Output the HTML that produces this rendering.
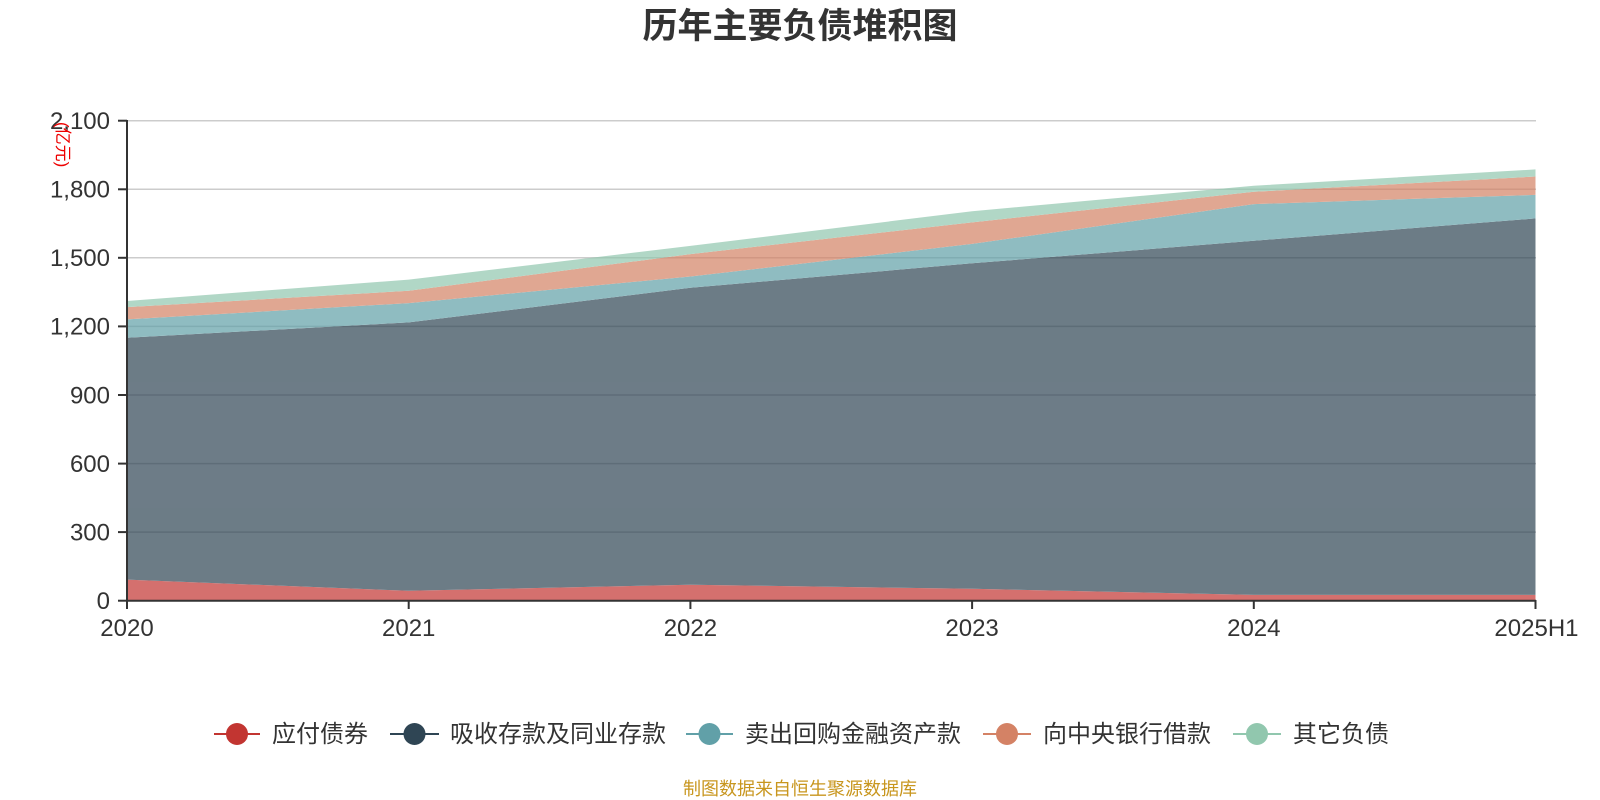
<!DOCTYPE html>
<html><head><meta charset="utf-8"><style>
body{margin:0;background:#fff;}
svg{display:block;font-family:"Liberation Sans","Noto Sans CJK SC",sans-serif;}
</style></head><body>
<svg width="1600" height="800" viewBox="0 0 1600 800">
<text x="800" y="38" text-anchor="middle" font-size="35" font-weight="bold" fill="#333">历年主要负债堆积图</text>
<g stroke="#ccc" stroke-width="1.5">
<line x1="127" x2="1536" y1="120.7" y2="120.7"/>
<line x1="127" x2="1536" y1="189.3" y2="189.3"/>
<line x1="127" x2="1536" y1="257.8" y2="257.8"/>
<line x1="127" x2="1536" y1="326.4" y2="326.4"/>
<line x1="127" x2="1536" y1="395" y2="395"/>
<line x1="127" x2="1536" y1="463.6" y2="463.6"/>
<line x1="127" x2="1536" y1="532.1" y2="532.1"/>
</g>
<g opacity="0.7">
<polygon fill="#c23531" points="127,579.6 408.7,590.8 690.4,584.7 972.1,588.8 1253.8,594.9 1535.5,594.9 1535.5,600.7 127,600.7"/>
<polygon fill="#2f4554" points="127,337.8 408.7,322.4 690.4,287.8 972.1,263.3 1253.8,240.8 1535.5,218.4 1535.5,594.9 1253.8,594.9 972.1,588.8 690.4,584.7 408.7,590.8 127,579.6"/>
<polygon fill="#61a0a8" points="127,319.4 408.7,303.1 690.4,276.5 972.1,243.9 1253.8,204.1 1535.5,194.9 1535.5,218.4 1253.8,240.8 972.1,263.3 690.4,287.8 408.7,322.4 127,337.8"/>
<polygon fill="#d48265" points="127,307.1 408.7,290.8 690.4,254.1 972.1,222.4 1253.8,191.8 1535.5,176.5 1535.5,194.9 1253.8,204.1 972.1,243.9 690.4,276.5 408.7,303.1 127,319.4"/>
<polygon fill="#91c7ae" points="127,301 408.7,279.6 690.4,245.9 972.1,211.2 1253.8,185.7 1535.5,169.4 1535.5,176.5 1253.8,191.8 972.1,222.4 690.4,254.1 408.7,290.8 127,307.1"/>
</g>
<g stroke="#333" stroke-width="2">
<line x1="127" x2="127" y1="120" y2="601"/>
<line x1="126" x2="1536" y1="600.7" y2="600.7"/>
<line x1="118" x2="127" y1="120.7" y2="120.7"/>
<line x1="118" x2="127" y1="189.3" y2="189.3"/>
<line x1="118" x2="127" y1="257.8" y2="257.8"/>
<line x1="118" x2="127" y1="326.4" y2="326.4"/>
<line x1="118" x2="127" y1="395" y2="395"/>
<line x1="118" x2="127" y1="463.6" y2="463.6"/>
<line x1="118" x2="127" y1="532.1" y2="532.1"/>
<line x1="118" x2="127" y1="600.7" y2="600.7"/>
<line x1="127" x2="127" y1="600" y2="609"/>
<line x1="408.7" x2="408.7" y1="600" y2="609"/>
<line x1="690.4" x2="690.4" y1="600" y2="609"/>
<line x1="972.1" x2="972.1" y1="600" y2="609"/>
<line x1="1253.8" x2="1253.8" y1="600" y2="609"/>
<line x1="1535.5" x2="1535.5" y1="600" y2="609"/>
</g>
<g font-size="24" fill="#333" text-anchor="end">
<text x="110" y="129">2,100</text>
<text x="110" y="197.5">1,800</text>
<text x="110" y="266">1,500</text>
<text x="110" y="334.5">1,200</text>
<text x="110" y="403.5">900</text>
<text x="110" y="472">600</text>
<text x="110" y="540.5">300</text>
<text x="110" y="609">0</text>
</g>
<g font-size="24" fill="#333" text-anchor="middle">
<text x="127" y="636">2020</text>
<text x="408.7" y="636">2021</text>
<text x="690.4" y="636">2022</text>
<text x="972.1" y="636">2023</text>
<text x="1253.8" y="636">2024</text>
<text x="1535.5" y="636" text-anchor="end" dx="43">2025H1</text>
</g>
<text x="0" y="0" font-size="17" fill="#e00" transform="translate(57,122) rotate(90)">(亿元)</text>
<g font-size="24" fill="#333">
<line x1="214" x2="260" y1="734" y2="734" stroke="#c23531" stroke-width="2"/><circle cx="237" cy="734" r="11" fill="#c23531"/>
<text x="272" y="742">应付债券</text>
<line x1="390" x2="439" y1="734" y2="734" stroke="#2f4554" stroke-width="2"/><circle cx="414.5" cy="734" r="11" fill="#2f4554"/>
<text x="450" y="742">吸收存款及同业存款</text>
<line x1="686" x2="733" y1="734" y2="734" stroke="#61a0a8" stroke-width="2"/><circle cx="709.5" cy="734" r="11" fill="#61a0a8"/>
<text x="745" y="742">卖出回购金融资产款</text>
<line x1="983" x2="1031" y1="734" y2="734" stroke="#d48265" stroke-width="2"/><circle cx="1007" cy="734" r="11" fill="#d48265"/>
<text x="1043" y="742">向中央银行借款</text>
<line x1="1233" x2="1281" y1="734" y2="734" stroke="#91c7ae" stroke-width="2"/><circle cx="1257" cy="734" r="11" fill="#91c7ae"/>
<text x="1293" y="742">其它负债</text>
</g>
<text x="800" y="795" text-anchor="middle" font-size="18" fill="#c8961e">制图数据来自恒生聚源数据库</text>
</svg>
</body></html>
